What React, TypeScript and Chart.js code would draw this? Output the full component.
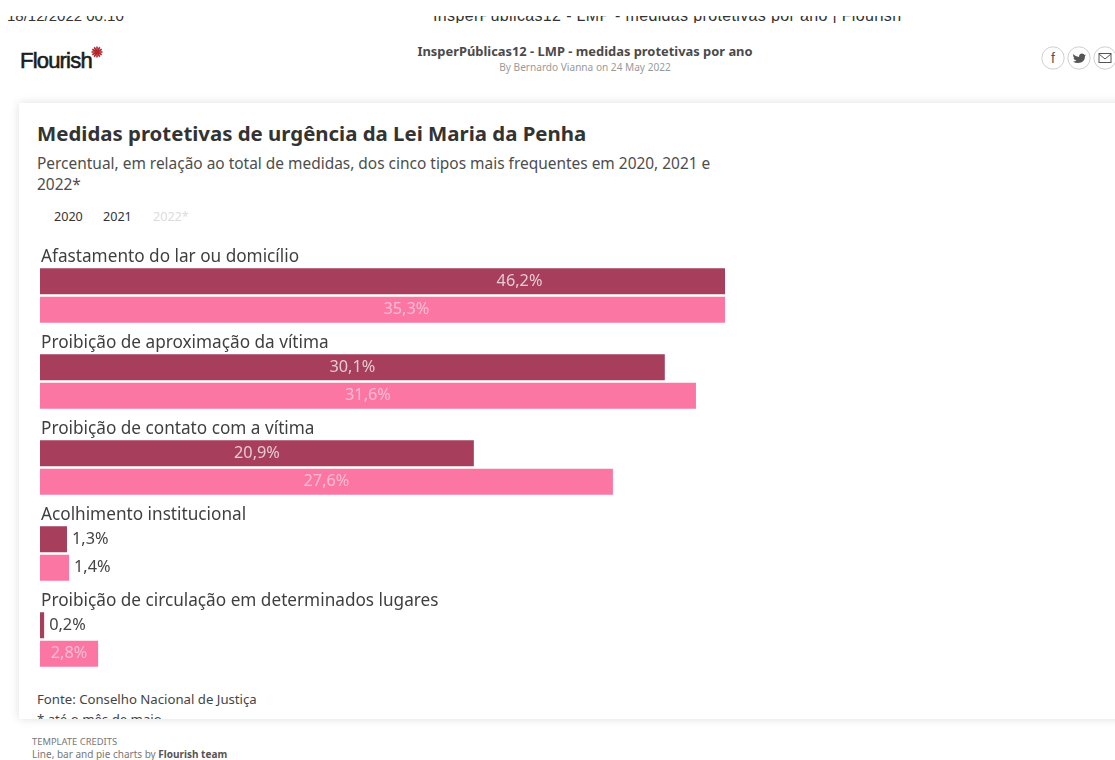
import React, { useEffect, useRef } from "react";
import { Chart, registerables } from "chart.js";

Chart.register(...registerables);

const categories = [
  "Afastamento do lar ou domicílio",
  "Proibição de aproximação da vítima",
  "Proibição de contato com a vítima",
  "Acolhimento institucional",
  "Proibição de circulação em determinados lugares",
];
const values2020 = [46.2, 30.1, 20.9, 1.3, 0.2];
const values2021 = [35.3, 31.6, 27.6, 1.4, 2.8];
const legendItems = ["2020", "2021", "2022*"];
const AXIS_MAX = 33;

const COLOR_2020 = "#a63e5c";
const COLOR_2021 = "#fb76a3";
const FONT = '"Noto Sans", sans-serif';

const formatValue = (v: number) => String(v.toFixed(1)).replace(".", ",") + "%";

// Draws each category heading above its bars, plus the value label of every bar.
const groupLabels = {
  id: "groupLabels",
  afterDatasetsDraw(chart: any) {
    const { ctx, scales } = chart;
    ctx.save();
    ctx.textBaseline = "middle";
    ctx.textAlign = "left";
    ctx.fillStyle = "#3f3f3f";
    ctx.font = `17.2px ${FONT}`;
    categories.forEach((name, i) => {
      ctx.fillText(name, scales.x.getPixelForValue(0) + 1, scales.y.getPixelForValue(i) - 38);
    });
    ctx.font = `16.3px ${FONT}`;
    chart.data.datasets.forEach((ds: any, d: number) => {
      chart.getDatasetMeta(d).data.forEach((bar: any, i: number) => {
        const text = formatValue(ds.data[i]);
        const w = ctx.measureText(text).width;
        const base = scales.x.getPixelForValue(0);
        if (bar.x - base > w + 8) {
          ctx.textAlign = "center";
          ctx.fillStyle = d === 0 ? "rgba(255,255,255,0.72)" : "rgba(255,255,255,0.5)";
          ctx.fillText(text, (base + bar.x) / 2, bar.y);
        } else {
          ctx.textAlign = "left";
          ctx.fillStyle = "#444444";
          ctx.fillText(text, bar.x + 5, bar.y);
        }
      });
    });
    ctx.restore();
  },
};

const abs = (left: number, top: number, extra: React.CSSProperties = {}): React.CSSProperties => ({
  position: "absolute",
  left,
  top,
  whiteSpace: "nowrap",
  fontFamily: FONT,
  ...extra,
});

const ShareIcon = ({ x, children }: { x: number; children: React.ReactNode }) => (
  <svg style={{ position: "absolute", left: x, top: 46 }} width={24} height={24} viewBox="0 0 24 24">
    <circle cx={12} cy={12} r={11.2} fill="#fff" stroke="#c4c4c4" strokeWidth={0.8} />
    {children}
  </svg>
);

export default function App() {
  const canvasRef = useRef<HTMLCanvasElement>(null);

  useEffect(() => {
    const chart = new Chart(canvasRef.current as HTMLCanvasElement, {
      type: "bar",
      data: {
        labels: categories,
        datasets: [
          { label: legendItems[0], data: values2020, backgroundColor: COLOR_2020 },
          { label: legendItems[1], data: values2021, backgroundColor: COLOR_2021 },
        ],
      },
      options: {
        indexAxis: "y",
        responsive: false,
        animation: false,
        layout: { padding: { left: 40, right: 390, top: 252.5, bottom: 77.5 } },
        datasets: { bar: { categoryPercentage: 0.663, barPercentage: 0.912 } },
        scales: {
          x: { display: false, min: 0, max: AXIS_MAX },
          y: { display: false },
        },
        plugins: { legend: { display: false }, tooltip: { enabled: false } },
      },
      plugins: [groupLabels],
    } as any);
    return () => chart.destroy();
  }, []);

  return (
    <div style={{ position: "absolute", left: 0, top: 0, width: 1115, height: 760, overflow: "hidden", background: "#fff" }}>
      {/* Browser print header; only the lower part of the line stays on the page */}
      <div style={{ position: "absolute", left: 0, top: 16, width: 1115, height: 7, overflow: "hidden" }}>
        <div style={abs(7, -9, { fontFamily: '"Liberation Sans", sans-serif', fontSize: 15, color: "#333", lineHeight: "17px" })}>
          18/12/2022 00:10
        </div>
        <div style={abs(433, -9, { fontFamily: '"Liberation Sans", sans-serif', fontSize: 16, letterSpacing: 0.35, color: "#333", lineHeight: "17px" })}>
          InsperPúblicas12 - LMP - medidas protetivas por ano | Flourish
        </div>
      </div>

      {/* Page header */}
      <div style={abs(20, 47, { fontFamily: '"Liberation Sans", sans-serif', fontSize: 22, letterSpacing: -0.8, color: "#1c1c1c", lineHeight: "28px", WebkitTextStroke: "0.6px #1c1c1c" })}>
        Flourish
      </div>
      <svg style={{ position: "absolute", left: 89, top: 44 }} width={16} height={16} viewBox="0 0 16 16">
        {[0, 30, 60, 90, 120, 150].map((a) => (
          <line key={a} x1={8} y1={2.5} x2={8} y2={13.5} stroke="#b3262e" strokeWidth={1.6} transform={`rotate(${a} 8 8)`} />
        ))}
      </svg>
      <div style={abs(0, 42, { width: 1170, textAlign: "center", fontSize: 12.9, fontWeight: 700, color: "#4a4a4a", lineHeight: "18px" })}>
        InsperPúblicas12 - LMP - medidas protetivas por ano
      </div>
      <div style={abs(0, 60, { width: 1170, textAlign: "center", fontSize: 10.1, color: "#9a9a9a", lineHeight: "14px" })}>
        By Bernardo Vianna on 24 May 2022
      </div>
      <ShareIcon x={1041}>
        <text x={12} y={17} textAnchor="middle" fontSize={14} fontFamily="Liberation Sans" fill="#555">f</text>
      </ShareIcon>
      <ShareIcon x={1067}>
        <path d="M6 8 Q9 11 12 11 Q12 7.5 15 7.5 Q17 7.5 17.5 9 L19 8.5 L18 10 Q18 17 11 17 Q8 17 6 15.5 Q8.5 15.5 9.5 14.5 Q7 14 6.5 12 Q7.5 12 7.5 12 Q6 11 6 8 Z" fill="#555" />
      </ShareIcon>
      <ShareIcon x={1093}>
        <rect x={6} y={7.5} width={12} height={9} fill="none" stroke="#555" strokeWidth={1} />
        <path d="M6 8 L12 13 L18 8" fill="none" stroke="#555" strokeWidth={1} />
      </ShareIcon>

      {/* Card holding the visualisation */}
      <div style={{ position: "absolute", left: 19, top: 103, width: 1200, height: 616, background: "#fff", boxShadow: "0 0 9px rgba(0,0,0,0.13)", overflow: "hidden" }}>
        <div style={abs(18, 16, { fontSize: 20.4, fontWeight: 700, color: "#333", lineHeight: "28px" })}>
          Medidas protetivas de urgência da Lei Maria da Penha
        </div>
        <div style={abs(18, 50, { fontSize: 15.45, color: "#4d4d4d", lineHeight: "20.5px" })}>
          Percentual, em relação ao total de medidas, dos cinco tipos mais frequentes em 2020, 2021 e
          <br />
          2022*
        </div>
        {legendItems.map((item, i) => (
          <div key={item} style={abs([35, 84, 134][i], 106, { fontSize: 12.6, lineHeight: "16px", color: i === 2 ? "#dcdcdc" : "#333" })}>
            {item}
          </div>
        ))}
        <div style={abs(18, 587, { fontSize: 13.2, color: "#444", lineHeight: "18px" })}>Fonte: Conselho Nacional de Justiça</div>
        <div style={abs(18, 607, { fontSize: 13.2, color: "#444", lineHeight: "18px" })}>* até o mês de maio</div>
      </div>

      {/* Footer credits */}
      <div style={abs(32, 735.5, { fontSize: 9.4, color: "#777", lineHeight: "12px" })}>TEMPLATE CREDITS</div>
      <div style={abs(32, 748, { fontSize: 10, color: "#777", lineHeight: "13px" })}>
        Line, bar and pie charts by <b style={{ color: "#555" }}>Flourish team</b>
      </div>

      <canvas ref={canvasRef} width={1115} height={760} style={{ position: "absolute", left: 0, top: 0, pointerEvents: "none" }} />
    </div>
  );
}
